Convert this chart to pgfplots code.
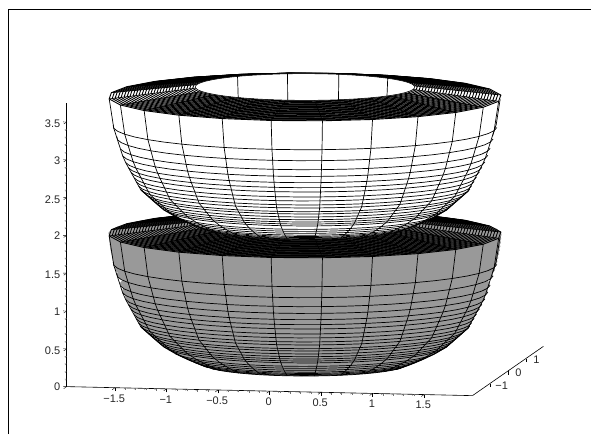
\documentclass[border=0pt]{standalone}
\usepackage{fontspec}
\setmainfont{Liberation Sans}
\usepackage{pgfplots}
\usepackage{pgfplotstable}
\pgfplotsset{compat=1.18}
\definecolor{bowlgray}{HTML}{999999}

% unit polygon, 15 degree steps, a = angle seen from the viewer
\pgfplotstableread{
a c s
-174.9 -0.2588 0.9659
-159.9 -0.5 0.8660
-144.9 -0.7071 0.7071
-129.9 -0.8660 0.5
-114.9 -0.9659 0.2588
-99.9 -1 0
-84.9 -0.9659 -0.2588
-69.9 -0.8660 -0.5
-54.9 -0.7071 -0.7071
-39.9 -0.5 -0.8660
-24.9 -0.2588 -0.9659
-9.9 0 -1
5.1 0.2588 -0.9659
20.1 0.5 -0.8660
35.1 0.7071 -0.7071
50.1 0.8660 -0.5
65.1 0.9659 -0.2588
80.1 1 0
95.1 0.9659 0.2588
110.1 0.8660 0.5
125.1 0.7071 0.7071
140.1 0.5 0.8660
155.1 0.2588 0.9659
170.1 0 1
185.1 -0.2588 0.9659
}\unitc

% same in 7.5 degree steps, for the side wall
\pgfplotstableread{
a c s
-174.9 -0.2588 0.9659
-167.4 -0.3827 0.9239
-159.9 -0.5 0.8660
-152.4 -0.6088 0.7934
-144.9 -0.7071 0.7071
-137.4 -0.7934 0.6088
-129.9 -0.8660 0.5
-122.4 -0.9239 0.3827
-114.9 -0.9659 0.2588
-107.4 -0.9914 0.1305
-99.9 -1 0
-92.4 -0.9914 -0.1305
-84.9 -0.9659 -0.2588
-77.4 -0.9239 -0.3827
-69.9 -0.8660 -0.5
-62.4 -0.7934 -0.6088
-54.9 -0.7071 -0.7071
-47.4 -0.6088 -0.7934
-39.9 -0.5 -0.8660
-32.4 -0.3827 -0.9239
-24.9 -0.2588 -0.9659
-17.4 -0.1305 -0.9914
-9.9 0 -1
-2.4 0.1305 -0.9914
5.1 0.2588 -0.9659
12.6 0.3827 -0.9239
20.1 0.5 -0.8660
27.6 0.6088 -0.7934
35.1 0.7071 -0.7071
42.6 0.7934 -0.6088
50.1 0.8660 -0.5
57.6 0.9239 -0.3827
65.1 0.9659 -0.2588
72.6 0.9914 -0.1305
80.1 1 0
87.6 0.9914 0.1305
95.1 0.9659 0.2588
102.6 0.9239 0.3827
110.1 0.8660 0.5
117.6 0.7934 0.6088
125.1 0.7071 0.7071
132.6 0.6088 0.7934
140.1 0.5 0.8660
147.6 0.3827 0.9239
155.1 0.2588 0.9659
162.6 0.1305 0.9914
170.1 0 1
177.6 -0.1305 0.9914
185.1 -0.2588 0.9659
}\unitf

% side wall of the lower bowl
\pgfplotstableread{
r z lim
1.880 1.753 97
1.836 1.364 96.3
1.801 1.213 95.4
1.772 1.089 94.9
1.750 0.996 94.5
1.722 0.909 94.1
1.694 0.838 93.8
1.670 0.777 93.5
1.641 0.706 93.2
1.619 0.650 92.7
1.596 0.593 91.9
1.578 0.550 91.1
1.531 0.493 90.5
1.503 0.458 90.3
1.465 0.412 89.5
1.431 0.370 88.8
1.403 0.335 87.8
1.378 0.304 85.9
1.339 0.272 84.4
1.270 0.215 82.9
1.219 0.180 81.4
1.167 0.145 79.9
1.115 0.112 77.5
1.074 0.088 75.5
1.039 0.068 73.5
1.012 0.052 72
0.987 0.040 71
}\side

% outline of the wall where it turns away, left and right of the base
\pgfplotstableread{
x y z
-1.515 -0.443 0.550
-1.395 -0.450 0.412
-1.282 -0.505 0.304
-1.156 -0.527 0.215
-1.035 -0.539 0.145
-0.912 -0.567 0.088
-0.779 -0.606 0.040
}\edgeleft
\pgfplotstableread{
x y z
1.575 0.096 0.550
1.464 0.048 0.412
1.377 -0.041 0.304
1.266 -0.104 0.215
1.156 -0.156 0.145
1.050 -0.225 0.088
0.938 -0.307 0.040
}\edgeright

% top of the lower bowl
\pgfplotstableread{
r z
1.880 1.753
1.851 1.758
1.823 1.762
1.794 1.767
1.766 1.771
1.737 1.776
1.708 1.780
1.680 1.785
1.651 1.789
1.623 1.794
1.594 1.799
1.565 1.803
1.537 1.808
1.508 1.812
1.480 1.817
1.451 1.821
1.422 1.826
1.394 1.830
1.365 1.835
1.337 1.839
1.308 1.844
1.279 1.849
1.251 1.853
1.222 1.858
1.194 1.862
1.165 1.867
1.136 1.871
1.108 1.876
1.079 1.880
1.050 1.885
}\lid

\pgfplotsset{
  wire/.style={draw=black,line width=0.7pt},
  topwire/.style={draw=black,line width=0.9pt},
  spoke/.style={draw=black,line width=0.6pt},
}

\newcommand\disc[4]{% r z shift colour
  \addplot3[fill=#4,draw=none] table[x expr=\thisrow{c}*#1,y expr=\thisrow{s}*#1,z expr=#2+#3] {\unitf};}
\newcommand\sidering[4]{% r z lim shift
  \addplot3[wire,restrict expr to domain={abs(\thisrow{a})+3}{0:#3}]
    table[x expr=\thisrow{c}*#1,y expr=\thisrow{s}*#1,z expr=#2+#4] {\unitf};}
\newcommand\topring[3]{% r z shift
  \addplot3[topwire] table[x expr=\thisrow{c}*#1,y expr=\thisrow{s}*#1,z expr=#2+#3] {\unitc};}
\newcommand\sideline[4]{% c s |a| shift
  \addplot3[wire,restrict expr to domain={\thisrow{lim}}{#3:100}]
    table[x expr=\thisrow{r}*#1,y expr=\thisrow{r}*#2,z expr=\thisrow{z}+#4] {\side};}
\newcommand\topline[3]{% c s shift
  \addplot3[spoke] table[z index=1,x expr=\thisrow{r}*#1,y expr=\thisrow{r}*#2,z expr=\thisrow{z}+#3] {\lid};}

\newcommand\bowl[2]{% shift colour
  \pgfplotsforeachungrouped \i in {0,...,26}{%
    \pgfplotstablegetelem{\i}{r}\of\side \let\vr\pgfplotsretval
    \pgfplotstablegetelem{\i}{z}\of\side \let\vz\pgfplotsretval
    \edef\cmd{\noexpand\disc{\vr}{\vz}{#1}{#2}}\cmd
  }
  % the long first panel has no ring of its own, so fill it in steps
  \disc{1.878}{1.70}{#1}{#2}
  \disc{1.875}{1.65}{#1}{#2}
  \disc{1.870}{1.60}{#1}{#2}
  \disc{1.865}{1.55}{#1}{#2}
  \disc{1.858}{1.50}{#1}{#2}
  \disc{1.850}{1.45}{#1}{#2}
  \disc{1.842}{1.40}{#1}{#2}
  \disc{1.820}{1.29}{#1}{#2}
  \pgfplotsforeachungrouped \i in {1,...,26}{%
    \pgfplotstablegetelem{\i}{r}\of\side \let\vr\pgfplotsretval
    \pgfplotstablegetelem{\i}{z}\of\side \let\vz\pgfplotsretval
    \pgfplotstablegetelem{\i}{lim}\of\side \let\vl\pgfplotsretval
    \edef\cmd{\noexpand\sidering{\vr}{\vz}{\vl}{#1}}\cmd
  }
  \sideline{-0.9659}{-0.2588}{84.9}{#1}
  \sideline{-0.8660}{-0.5}{69.9}{#1}
  \sideline{-0.7071}{-0.7071}{54.9}{#1}
  \sideline{-0.5}{-0.8660}{39.9}{#1}
  \sideline{-0.2588}{-0.9659}{24.9}{#1}
  \sideline{0}{-1}{9.9}{#1}
  \sideline{0.2588}{-0.9659}{5.1}{#1}
  \sideline{0.5}{-0.8660}{20.1}{#1}
  \sideline{0.7071}{-0.7071}{35.1}{#1}
  \sideline{0.8660}{-0.5}{50.1}{#1}
  \sideline{0.9659}{-0.2588}{65.1}{#1}
  \sideline{1}{0}{80.1}{#1}
  \sideline{0.9659}{0.2588}{95.1}{#1}
  \addplot3[draw=black,line width=1pt] table[x=x,y=y,z expr=\thisrow{z}+#1] {\edgeleft};
  \addplot3[draw=black,line width=1pt] table[x=x,y=y,z expr=\thisrow{z}+#1] {\edgeright};
  \disc{1.88}{1.753}{#1}{#2}
  \pgfplotsforeachungrouped \i in {0,...,29}{%
    \pgfplotstablegetelem{\i}{r}\of\lid \let\vr\pgfplotsretval
    \pgfplotstablegetelem{\i}{z}\of\lid \let\vz\pgfplotsretval
    \edef\cmd{\noexpand\topring{\vr}{\vz}{#1}}\cmd
  }
  \pgfplotsforeachungrouped \i in {0,...,23}{%
    \pgfplotstablegetelem{\i}{c}\of\unitc \let\vc\pgfplotsretval
    \pgfplotstablegetelem{\i}{s}\of\unitc \let\vs\pgfplotsretval
    \edef\cmd{\noexpand\topline{\vc}{\vs}{#1}}\cmd
  }
  \addplot3[fill=#2,draw=black,line width=0.5pt]
    table[x expr=\thisrow{c}*1.05,y expr=\thisrow{s}*1.05,z expr=1.885+#1] {\unitf};
}

\begin{document}
\begin{tikzpicture}
\path[use as bounding box] (0pt,0pt) rectangle (591pt,434pt);
\draw[black,line width=1.4pt] (8.5pt,0pt) -- (8.5pt,424.5pt) -- (591pt,424.5pt);
\begin{axis}[
  at={(305pt,67.5pt)},anchor=origin,
  x={(103pt,-2.29pt)},y={(18pt,12.5pt)},z={(0pt,75.6pt)},
  xmin=-1.97,xmax=1.97,ymin=-1.97,ymax=1.97,zmin=0,zmax=3.75,
  axis x line*=bottom,axis y line*=left,axis z line*=left,
  clip=false,
  tick align=outside,
  major tick length=3.5pt,minor tick length=2pt,
  major tick style={black,line width=0.4pt},
  minor tick style={black!55,line width=0.4pt},
  axis line style={black,line width=0.6pt},
  tick label style={font=\fontsize{11}{13}\selectfont,text=black!85},
  x tick label style={xshift=6pt,yshift=-1pt},
  y tick label style={yshift=6pt},
  z tick label style={yshift=3.5pt},
  xtick={-1.5,-1,-0.5,0,0.5,1,1.5},xticklabels={−1.5,−1,−0.5,0,0.5,1,1.5},
  ytick={-1,0,1},yticklabels={−1,0,1},
  ztick={0,0.5,1,1.5,2,2.5,3,3.5},zticklabels={0,0.5,1,1.5,2,2.5,3,3.5},
  minor x tick num=4,minor z tick num=4,
]
\bowl{0}{bowlgray}
\bowl{1.812}{white}
% back wall seen through the opening of the upper bowl
\addplot3[wire] coordinates {(0.487,1.816,3.565) (0.482,1.797,3.295)};
\addplot3[wire] coordinates {(0,1.88,3.565) (0,1.86,3.22)};
\addplot3[wire] coordinates {(-0.487,1.816,3.565) (-0.482,1.797,3.211)};
\addplot3[wire] coordinates {(-0.94,1.628,3.565) (-0.93,1.611,3.262)};
\end{axis}
\end{tikzpicture}
\end{document}
